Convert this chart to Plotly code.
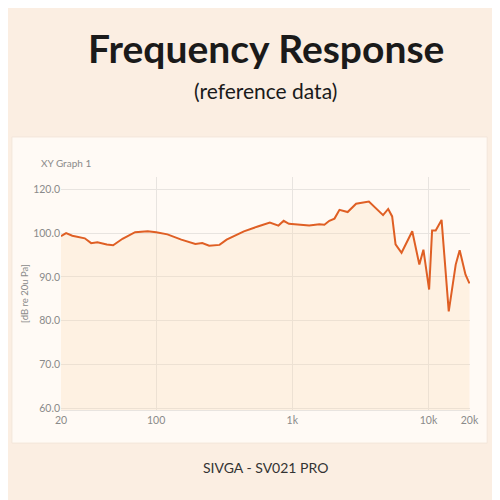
import plotly.graph_objects as go

freq = [20, 21.8, 24.2, 29.9, 33.3, 37.0, 43.4, 48.3, 56.6, 70.0, 86.7, 100, 121, 153, 194,
        218, 245, 292, 329, 441, 557, 684, 791, 864, 944, 1330, 1580, 1720, 1870, 2040,
        2220, 2550, 2940, 3650, 4640, 5060, 5410, 5730, 6340, 7600, 8570, 9180, 10110,
        10630, 11300, 12480, 14090, 15850, 16950, 18710, 20000]
db = [99.3, 100.0, 99.4, 98.8, 97.7, 97.9, 97.4, 97.2, 98.7, 100.2, 100.4, 100.2, 99.7, 98.5, 97.5,
      97.7, 97.1, 97.3, 98.5, 100.4, 101.5, 102.4, 101.7, 102.8, 102.1, 101.7, 102.0, 101.9, 102.8, 103.3,
      105.3, 104.8, 106.7, 107.2, 104.1, 105.5, 103.8, 97.4, 95.5, 100.4, 92.8, 96.2, 87.1,
      100.6, 100.6, 103.0, 82.1, 92.8, 96.1, 90.5, 88.5]

x_ticks = [20, 100, 1000, 10000, 20000]
x_labels = ["20", "100", "1k", "10k", "20k"]
y_ticks = [60, 70, 80, 90, 100, 110]
y_labels = ["60.0", "70.0", "80.0", "90.0", "100.0", "120.0"]

fig = go.Figure()
fig.add_trace(go.Scatter(x=freq, y=db, mode="lines", line=dict(color="#df5f24", width=2),
                         fill="tozeroy", fillcolor="rgba(252,215,170,0.25)"))

grey = "#8a8a8a"
# page body has an 8px margin, so margins are shifted by 8
fig.update_layout(
    width=500, height=500, showlegend=False,
    paper_bgcolor="#fbeee2", plot_bgcolor="rgba(0,0,0,0)",
    margin=dict(l=53, r=38, t=169, b=98),
    font=dict(family="Lato", color=grey, size=10.5),
    xaxis=dict(type="log", range=[1.301, 4.305], tickvals=x_ticks, ticktext=x_labels,
               showgrid=True, gridcolor="#e8e4e0", zeroline=False, ticks="", automargin=False,
               showline=True, linecolor="#e8e4e0"),
    yaxis=dict(range=[59.6, 112.8], tickvals=y_ticks, ticktext=y_labels, automargin=False,
               showgrid=True, gridcolor="#e8e4e0", zeroline=False, ticks="",
               title=dict(text="[dB re 20u Pa]", font=dict(size=9.5, color=grey), standoff=2)),
    shapes=[dict(type="rect", xref="paper", yref="paper", x0=-0.12, x1=1.042, y0=-0.142, y1=1.172,
                 fillcolor="#fffaf5", line=dict(color="#f3e6da", width=1), layer="below")],
    annotations=[
        dict(text="<b>Frequency Response</b>", xref="paper", yref="paper", x=0.5, xanchor="center",
             y=1.554, yanchor="middle", showarrow=False, font=dict(size=39, color="#1a1a1a", family="Lato")),
        dict(text="(reference data)", xref="paper", yref="paper", x=0.5, xanchor="center",
             y=1.373, yanchor="middle", showarrow=False, font=dict(size=21, color="#1a1a1a", family="Lato")),
        dict(text="XY Graph 1", xref="paper", yref="paper", x=-0.055, xanchor="left",
             y=1.06, yanchor="middle", showarrow=False, font=dict(size=10, color=grey)),
        dict(text="SIVGA - SV021 PRO", xref="paper", yref="paper", x=0.5, xanchor="center",
             y=-0.245, yanchor="middle", showarrow=False, font=dict(size=14, color="#333333", family="Lato")),
    ],
)

fig.write_html("out.html")
